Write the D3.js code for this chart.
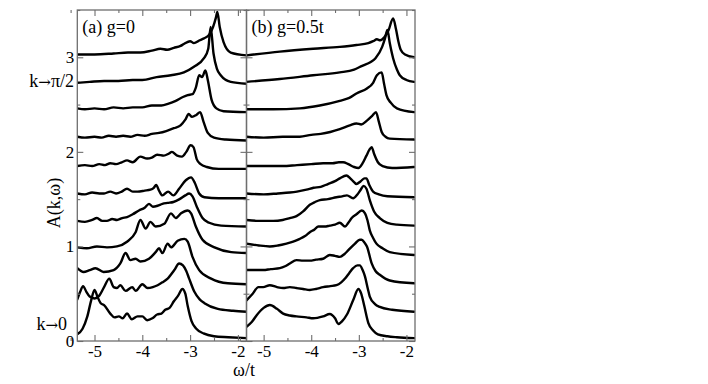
<!DOCTYPE html>
<html>
<head>
<meta charset="utf-8">
<style>
body { margin: 0; background: #fff; }
text { font-family: "Liberation Serif", "Times New Roman", serif; fill: #000; }
.frame { fill: none; stroke: #6e6e6e; stroke-width: 1.3; }
.curve { fill: none; stroke: #000; stroke-width: 2.4; stroke-linejoin: round; stroke-linecap: round; }
.axis path { display: none; }
.axis line { stroke: #6e6e6e; stroke-width: 1.1; }
.axis text { font-size: 17px; }
.arrow { font-family: "DejaVu Serif", serif; font-size: 15px; }
</style>
</head>
<body>
<svg width="708" height="384"></svg>
<script src="https://d3js.org/d3.v7.min.js"></script>
<script>
// waterfall offset between successive k curves
var offsetStep = 0.3;
var xMajor = [-5, -4, -3, -2];
var xMinor = [-5.5, -4.5, -3.5, -2.5];
var yMajor = [0, 1, 2, 3];
var yMinor = [0.5, 1.5, 2.5, 3.5];

// panel (a) g=0 : each curve is [omega, A] pairs, bottom (k->0) to top (k->pi/2), without offset
var curvesG0 = [
  [[-5.36,.07],[-5.25,.13],[-5.15,.26],[-5.07,.43],[-5.0,.54],[-4.94,.47],[-4.87,.40],[-4.8,.38],[-4.67,.29],[-4.58,.25],[-4.49,.26],[-4.41,.24],[-4.32,.29],[-4.22,.23],[-4.1,.26],[-4.0,.26],[-3.9,.22],[-3.79,.24],[-3.69,.28],[-3.6,.29],[-3.52,.33],[-3.43,.35],[-3.34,.42],[-3.25,.48],[-3.16,.55],[-3.1,.5],[-3.05,.37],[-2.97,.21],[-2.87,.13],[-2.72,.08],[-2.5,.05],[-2.2,.04],[-1.82,.03]],
  [[-5.36,.14],[-5.3,.22],[-5.24,.28],[-5.17,.22],[-5.1,.17],[-5.0,.15],[-4.9,.18],[-4.8,.27],[-4.69,.36],[-4.6,.27],[-4.53,.26],[-4.46,.29],[-4.35,.23],[-4.21,.27],[-4.14,.23],[-4.0,.30],[-3.89,.26],[-3.78,.27],[-3.68,.29],[-3.58,.32],[-3.47,.36],[-3.33,.45],[-3.23,.52],[-3.15,.50],[-3.08,.44],[-3.02,.36],[-2.91,.22],[-2.8,.14],[-2.7,.10],[-2.42,.04],[-2.1,.02],[-1.82,.01]],
  [[-5.36,.17],[-5.23,.13],[-5.1,.15],[-4.98,.17],[-4.81,.13],[-4.6,.15],[-4.46,.22],[-4.35,.33],[-4.25,.255],[-4.14,.27],[-4.04,.24],[-3.86,.27],[-3.72,.34],[-3.65,.38],[-3.58,.33],[-3.47,.43],[-3.40,.39],[-3.26,.46],[-3.12,.48],[-3.05,.45],[-2.95,.29],[-2.81,.15],[-2.56,.06],[-2.21,.01],[-1.82,0]],
  [[-5.36,.09],[-5.16,.08],[-4.95,.10],[-4.74,.09],[-4.53,.10],[-4.32,.15],[-4.14,.25],[-4.04,.38],[-3.93,.29],[-3.83,.36],[-3.72,.31],[-3.54,.34],[-3.40,.45],[-3.30,.40],[-3.19,.45],[-3.05,.48],[-2.98,.45],[-2.88,.31],[-2.74,.17],[-2.49,.09],[-2.14,.04],[-1.82,.03]],
  [[-5.36,.07],[-5.2,.06],[-5.05,.08],[-4.95,.10],[-4.84,.07],[-4.74,.07],[-4.63,.09],[-4.53,.08],[-4.42,.10],[-4.32,.11],[-4.2,.14],[-4.07,.18],[-3.95,.21],[-3.86,.25],[-3.78,.22],[-3.68,.23],[-3.58,.25],[-3.47,.26],[-3.35,.27],[-3.22,.30],[-3.1,.34],[-3.02,.36],[-2.95,.33],[-2.86,.22],[-2.74,.1],[-2.6,.05],[-2.35,.02],[-1.82,.01]],
  [[-5.36,.06],[-5.2,.05],[-5.05,.07],[-4.9,.06],[-4.8,.06],[-4.67,.08],[-4.55,.06],[-4.43,.08],[-4.32,.11],[-4.2,.08],[-4.1,.08],[-3.95,.09],[-3.83,.1],[-3.76,.12],[-3.71,.15],[-3.65,.09],[-3.58,.04],[-3.46,.08],[-3.35,.04],[-3.23,.11],[-3.09,.20],[-2.98,.23],[-2.9,.17],[-2.81,.06],[-2.7,.02],[-2.4,.01],[-1.82,.01]],
  [[-5.36,.05],[-5.2,.06],[-5.05,.05],[-4.9,.07],[-4.78,.06],[-4.67,.08],[-4.55,.07],[-4.43,.09],[-4.32,.11],[-4.2,.09],[-4.04,.15],[-3.9,.13],[-3.8,.14],[-3.69,.17],[-3.55,.16],[-3.45,.18],[-3.38,.20],[-3.27,.16],[-3.17,.15],[-3.08,.2],[-2.99,.27],[-2.93,.25],[-2.86,.12],[-2.78,.07],[-2.65,.04],[-2.4,.02],[-1.82,.02]],
  [[-5.36,.06],[-5.2,.05],[-5.0,.06],[-4.85,.05],[-4.7,.07],[-4.55,.06],[-4.4,.07],[-4.25,.06],[-4.1,.08],[-3.95,.07],[-3.8,.09],[-3.65,.1],[-3.5,.12],[-3.34,.15],[-3.2,.18],[-3.1,.24],[-3.03,.30],[-2.96,.27],[-2.87,.29],[-2.79,.32],[-2.72,.22],[-2.63,.1],[-2.5,.05],[-2.25,.03],[-1.82,.02]],
  [[-5.36,.06],[-5.2,.05],[-5.0,.06],[-4.8,.05],[-4.6,.07],[-4.4,.06],[-4.2,.07],[-4.0,.07],[-3.8,.09],[-3.6,.09],[-3.45,.11],[-3.3,.14],[-3.15,.18],[-3.05,.2],[-2.95,.21],[-2.88,.28],[-2.81,.41],[-2.75,.39],[-2.68,.46],[-2.63,.36],[-2.55,.15],[-2.45,.06],[-2.3,.03],[-1.82,.02]],
  [[-5.36,.03],[-5.1,.04],[-4.8,.05],[-4.5,.05],[-4.2,.06],[-4.0,.06],[-3.7,.09],[-3.4,.11],[-3.13,.14],[-2.92,.2],[-2.71,.29],[-2.62,.39],[-2.57,.62],[-2.51,.34],[-2.44,.18],[-2.36,.11],[-2.15,.04],[-1.82,.02]],
  [[-5.36,.03],[-5.0,.03],[-4.6,.04],[-4.3,.05],[-4.04,.05],[-3.8,.07],[-3.62,.09],[-3.48,.08],[-3.34,.10],[-3.2,.12],[-3.13,.14],[-3.0,.17],[-2.92,.15],[-2.8,.18],[-2.71,.2],[-2.6,.24],[-2.52,.32],[-2.46,.42],[-2.43,.48],[-2.38,.32],[-2.3,.16],[-2.15,.05],[-1.82,.02]]
];

// panel (b) g=0.5t
var curvesG05 = [
  [[-5.36,.15],[-5.25,.2],[-5.15,.27],[-5.0,.35],[-4.87,.38],[-4.72,.34],[-4.59,.29],[-4.45,.27],[-4.31,.26],[-4.1,.25],[-3.96,.24],[-3.75,.26],[-3.61,.285],[-3.5,.24],[-3.43,.18],[-3.35,.21],[-3.25,.28],[-3.12,.43],[-3.01,.55],[-2.95,.5],[-2.89,.38],[-2.8,.19],[-2.7,.11],[-2.6,.07],[-2.4,.05],[-2.2,.04],[-1.84,.03]],
  [[-5.36,.13],[-5.23,.2],[-5.11,.27],[-5.01,.27],[-4.87,.29],[-4.72,.27],[-4.59,.26],[-4.45,.27],[-4.31,.26],[-4.17,.25],[-4.03,.24],[-3.9,.25],[-3.75,.27],[-3.6,.28],[-3.47,.29],[-3.37,.32],[-3.29,.36],[-3.2,.42],[-3.12,.47],[-3.03,.5],[-2.98,.50],[-2.92,.45],[-2.87,.38],[-2.81,.25],[-2.77,.17],[-2.66,.09],[-2.56,.06],[-2.3,.03],[-1.84,.01]],
  [[-5.36,.15],[-5.2,.15],[-5.01,.15],[-4.85,.16],[-4.66,.17],[-4.55,.19],[-4.45,.22],[-4.31,.255],[-4.17,.25],[-4.03,.25],[-3.9,.26],[-3.75,.27],[-3.61,.31],[-3.5,.30],[-3.40,.29],[-3.3,.32],[-3.22,.36],[-3.08,.43],[-2.98,.47],[-2.94,.47],[-2.88,.44],[-2.83,.40],[-2.73,.22],[-2.65,.14],[-2.56,.10],[-2.35,.04],[-1.84,.01]],
  [[-5.36,.13],[-5.1,.11],[-4.87,.10],[-4.7,.11],[-4.52,.13],[-4.38,.15],[-4.24,.18],[-4.13,.21],[-4.03,.25],[-3.93,.28],[-3.85,.31],[-3.72,.31],[-3.61,.32],[-3.5,.33],[-3.40,.35],[-3.29,.31],[-3.22,.35],[-3.15,.40],[-3.05,.44],[-2.94,.48],[-2.87,.45],[-2.82,.38],[-2.77,.27],[-2.7,.19],[-2.63,.13],[-2.5,.08],[-2.35,.04],[-1.84,.01]],
  [[-5.36,.08],[-5.1,.07],[-4.8,.07],[-4.6,.08],[-4.45,.1],[-4.31,.12],[-4.17,.17],[-4.03,.24],[-3.92,.27],[-3.82,.29],[-3.65,.30],[-3.47,.32],[-3.35,.33],[-3.25,.34],[-3.12,.31],[-3.03,.35],[-2.96,.40],[-2.9,.44],[-2.84,.41],[-2.77,.29],[-2.68,.17],[-2.56,.1],[-2.4,.05],[-2.2,.03],[-1.84,.02]],
  [[-5.36,.06],[-5.0,.05],[-4.7,.06],[-4.45,.07],[-4.3,.08],[-4.1,.1],[-3.95,.12],[-3.8,.13],[-3.65,.16],[-3.5,.19],[-3.4,.22],[-3.26,.25],[-3.18,.22],[-3.1,.18],[-3.05,.16],[-2.96,.19],[-2.88,.22],[-2.84,.22],[-2.78,.15],[-2.7,.08],[-2.58,.05],[-2.4,.03],[-1.84,.02]],
  [[-5.36,.05],[-5.0,.05],[-4.6,.05],[-4.3,.06],[-4.0,.07],[-3.75,.08],[-3.55,.08],[-3.42,.09],[-3.33,.09],[-3.22,.07],[-3.1,.04],[-3.01,.03],[-2.92,.08],[-2.84,.16],[-2.78,.22],[-2.73,.25],[-2.68,.18],[-2.6,.09],[-2.5,.05],[-2.3,.03],[-1.84,.04]],
  [[-5.36,.06],[-5.0,.05],[-4.6,.06],[-4.24,.06],[-4.0,.08],[-3.8,.09],[-3.6,.11],[-3.4,.14],[-3.19,.18],[-3.05,.20],[-2.95,.19],[-2.83,.23],[-2.72,.28],[-2.64,.32],[-2.58,.22],[-2.52,.11],[-2.44,.06],[-2.35,.04],[-1.84,.03]],
  [[-5.36,.05],[-4.8,.05],[-4.24,.06],[-3.82,.09],[-3.40,.14],[-3.2,.17],[-3.04,.22],[-2.83,.27],[-2.7,.33],[-2.62,.41],[-2.52,.44],[-2.47,.32],[-2.42,.2],[-2.33,.12],[-2.2,.06],[-1.84,.02]],
  [[-5.36,.04],[-4.66,.07],[-3.96,.11],[-3.4,.14],[-3.1,.17],[-2.93,.21],[-2.75,.25],[-2.65,.29],[-2.51,.41],[-2.45,.5],[-2.40,.59],[-2.35,.45],[-2.28,.29],[-2.2,.17],[-2.14,.11],[-2.0,.06],[-1.84,.04]],
  [[-5.36,.02],[-4.66,.06],[-3.96,.09],[-3.4,.11],[-3.05,.13],[-2.8,.15],[-2.7,.17],[-2.62,.19],[-2.55,.18],[-2.47,.21],[-2.38,.28],[-2.28,.41],[-2.22,.3],[-2.17,.17],[-2.12,.08],[-2.03,.03],[-1.84,0]]
];

var svg = d3.select("svg");
var plotTop = 10, plotBottom = 341;
var y = d3.scaleLinear().domain([0, 3.5]).range([plotBottom, plotTop]);

function drawPanel(id, curves, x0, x1, label, showY) {
  var x = d3.scaleLinear().domain([-5.36, -1.82]).range([x0, x1]);
  var g = svg.append("g");

  g.append("clipPath").attr("id", "clip" + id)
    .append("rect").attr("x", x0).attr("y", plotTop).attr("width", x1 - x0).attr("height", plotBottom - plotTop);

  var line = d3.line()
    .x(function(d) { return x(d[0]); })
    .curve(d3.curveMonotoneX);

  g.append("g").attr("clip-path", "url(#clip" + id + ")")
    .selectAll("path")
    .data(curves)
    .enter().append("path")
      .attr("class", "curve")
      .attr("d", function(c, i) {
        return line.y(function(d) { return y(d[1] + i * offsetStep); })(c);
      });

  // ticks on all four sides, pointing inward
  g.append("g").attr("class", "axis").attr("transform", "translate(0," + plotBottom + ")")
    .call(d3.axisBottom(x).tickValues(xMajor).tickSize(-6).tickPadding(4).tickFormat(function(d) { return String(d); }));
  g.append("g").attr("class", "axis").attr("transform", "translate(0," + plotBottom + ")")
    .call(d3.axisBottom(x).tickValues(xMinor).tickSize(-3).tickFormat(""));
  g.append("g").attr("class", "axis").attr("transform", "translate(0," + plotTop + ")")
    .call(d3.axisTop(x).tickValues(xMajor).tickSize(-6).tickFormat(""));
  g.append("g").attr("class", "axis").attr("transform", "translate(0," + plotTop + ")")
    .call(d3.axisTop(x).tickValues(xMinor).tickSize(-3).tickFormat(""));

  g.append("g").attr("class", "axis").attr("transform", "translate(" + x0 + ",0)")
    .call(d3.axisLeft(y).tickValues(yMajor).tickSize(-6).tickPadding(3).tickFormat(showY ? function(d) { return String(d); } : ""));
  g.append("g").attr("class", "axis").attr("transform", "translate(" + x0 + ",0)")
    .call(d3.axisLeft(y).tickValues(yMinor).tickSize(-3).tickFormat(""));
  g.append("g").attr("class", "axis").attr("transform", "translate(" + x1 + ",0)")
    .call(d3.axisRight(y).tickValues(yMajor).tickSize(-6).tickFormat(""));
  g.append("g").attr("class", "axis").attr("transform", "translate(" + x1 + ",0)")
    .call(d3.axisRight(y).tickValues(yMinor).tickSize(-3).tickFormat(""));

  g.append("rect").attr("class", "frame")
    .attr("x", x0).attr("y", plotTop).attr("width", x1 - x0).attr("height", plotBottom - plotTop);

  g.append("text").attr("x", x0 + 5).attr("y", 33).style("font-size", "18px").text(label);
}

drawPanel("a", curvesG0, 77.3, 246.5, "(a) g=0", true);
drawPanel("b", curvesG05, 246.5, 415, "(b) g=0.5t", false);

// k labels with a wider arrow glyph
var kTop = svg.append("text").attr("x", 74).attr("y", 87).attr("text-anchor", "end").style("font-size", "18px");
kTop.append("tspan").text("k");
kTop.append("tspan").attr("class", "arrow").text("\u2192");
kTop.append("tspan").text("\u03c0/2");

var kBottom = svg.append("text").attr("x", 67).attr("y", 330).attr("text-anchor", "end").style("font-size", "18px");
kBottom.append("tspan").text("k");
kBottom.append("tspan").attr("class", "arrow").text("\u2192");
kBottom.append("tspan").text("0");

svg.append("text").attr("transform", "translate(60,203) rotate(-90)").attr("text-anchor", "middle")
  .style("font-size", "18px").text("A(k,\u03c9)");
svg.append("text").attr("x", 244).attr("y", 376).attr("text-anchor", "middle")
  .style("font-size", "18px").text("\u03c9/t");
</script>
</body>
</html>
